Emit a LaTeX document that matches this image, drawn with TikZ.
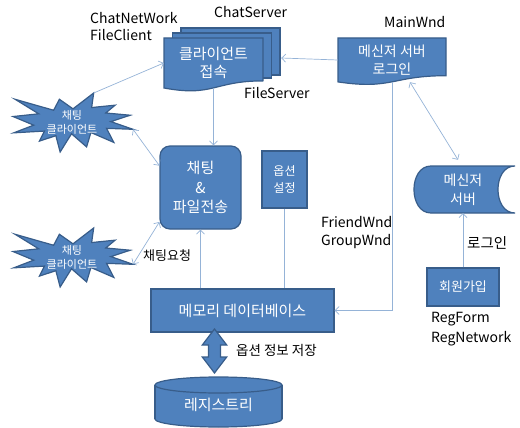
\documentclass[tikz,border=0pt]{standalone}
\usepackage{fontspec}
\setmainfont{Noto Sans CJK KR}
\usetikzlibrary{arrows.meta}
\definecolor{boxfill}{HTML}{4F81BD}
\definecolor{boxline}{HTML}{385D8A}
\definecolor{linkblue}{HTML}{95B3D7}
\tikzset{
    shapefill/.style={draw=boxline, fill=boxfill, line width=1.2pt},
    box/.style={shapefill, text=white, inner sep=0pt, align=center},
    words/.style={text=white, inner sep=0pt, align=center},
    tag/.style={inner sep=0pt, align=left, font=\fontsize{14}{17}\selectfont},
    link/.style={draw=linkblue, line width=0.7pt},
    onearrow/.style={-{Straight Barb[length=4pt,width=8pt]}},
    botharrow/.style={{Straight Barb[length=4pt,width=8pt]}-{Straight Barb[length=4pt,width=8pt]}},
    burst/.pic={
        \begin{scope}[xscale=0.5556, yscale=0.2731]
            \filldraw[shapefill] (108,58) -- (145.22,0) -- (141.55,53.25) -- (183.8,44.57) -- (167.02,73.15)
                -- (210.97,81.37) -- (176.07,104.75) -- (216,132.9) -- (168.37,129.42) -- (181.45,180.95)
                -- (140.2,144.57) -- (132.47,197.37) -- (105.32,149.35) -- (84.85,216) -- (77.15,156.27)
                -- (47.62,176.17) -- (56.67,139.37) -- (1.35,145.87) -- (37.22,117.75) -- (0,86.15)
                -- (46.27,76.17) -- (3.7,22.95) -- (73.12,63.2) -- (83.52,22.95) -- cycle;
        \end{scope}
        \coordinate (-top) at (80.7,0);
        \coordinate (-right) at (120,36.3);
        \node[words, font=\fontsize{11}{14.5}\selectfont] (-txt) at (59,29.5) {채팅\\클라이언트};
    }
}
\begin{document}
\begin{tikzpicture}[x=1pt, y=-1pt]
                \useasboundingbox (0,0) rectangle (520,428);

                \filldraw[shapefill] (181,28) rectangle (280,75);
                \filldraw[shapefill] (172.5,33) rectangle (271.5,78);
                \filldraw[shapefill] (164,38) -- (263,38) -- (263,80.9) .. controls (213.5,80.9) and (213.5,97.2) .. (164,88) -- cycle;
                \node[words, minimum width=99pt, minimum height=50pt, font=\fontsize{15}{18}\selectfont] (conn) at (213.5,63) {클라이언트\\접속};
                \node[inner sep=0pt, minimum width=117pt, minimum height=60pt] (stack) at (222.5,58) {};

                \filldraw[shapefill] (338,38) -- (446,38) -- (446,75.7) .. controls (392,75.7) and (392,90) .. (338,81.9) -- cycle;
                \node[words, minimum width=108pt, minimum height=44pt, font=\fontsize{14}{18}\selectfont] (login) at (392,60) {메신저 서버\\로그인};

                \node[box, rounded corners=10pt, minimum width=81pt, minimum height=83pt, font=\fontsize{15}{19.5}\selectfont] (chat) at (200.5,187.5) {채팅\\\&\\파일전송};
                \node[box, minimum width=45pt, minimum height=57pt, font=\fontsize{12}{17}\selectfont] (opt) at (284.5,179.5) {옵션\\설정};
                \node[box, minimum width=183pt, minimum height=43pt, font=\fontsize{15}{18}\selectfont] (db) at (242.5,310.5) {메모리 데이터베이스};
                \node[box, minimum width=72pt, minimum height=38pt, font=\fontsize{13}{16}\selectfont] (join) at (463,287) {회원가입};

                \filldraw[shapefill] (431,166) -- (515,166) .. controls (492.3,166) and (492.3,213) .. (515,213) -- (431,213) .. controls (408.3,213) and (408.3,166) .. (431,166) -- cycle;
                \node[words, minimum width=101pt, minimum height=47pt, font=\fontsize{14}{19}\selectfont] (server) at (463,189.5) {메신저\\서버};

                \filldraw[shapefill] (218.5,419) ellipse [x radius=63.5pt, y radius=8pt];
                \fill[boxfill] (155,385) rectangle (282,419);
                \draw[boxline, line width=1.2pt] (155,385) -- (155,419) (282,385) -- (282,419);
                \filldraw[shapefill] (218.5,385) ellipse [x radius=63.5pt, y radius=8pt];
                \node[words, minimum width=127pt, minimum height=30pt, font=\fontsize{15}{18}\selectfont] (registry) at (218.5,405) {레지스트리};

                \filldraw[shapefill] (214.5,329) -- (226.7,345) -- (220.5,345) -- (220.5,357) -- (226.7,357) -- (214.5,373)
                    -- (202.3,357) -- (208.5,357) -- (208.5,345) -- (202.3,345) -- cycle;

                \pic (c1) at (13,93) {burst};
                \pic (c2) at (13,228) {burst};

                \draw[link, onearrow] (login.west) -- (stack.east);
                \draw[link, onearrow] (c1-top) -- (conn.west);
                \draw[link, onearrow] (conn.south) -- (conn.south |- chat.north);
                \draw[link, botharrow] (c1-right) -- (chat.152);
                \draw[link, botharrow] (c2-right) -- (chat.220);
                \draw[link, onearrow] (chat.south |- db.north) -- (chat.south);
                \draw[link] (opt.south) -- (opt.south |- db.north);
                \draw[link, onearrow] (login.south) -- (login.south |- db.east) -- (db.east);
                \draw[link, botharrow] ([xshift=18pt]login.south) -- ([xshift=-5pt,yshift=6pt]server.north);
                \draw[link, onearrow] (join.north) -- (server.south);

                \node[tag, anchor=north west] (netlbl) at (90,12.4) {ChatNetWork\\FileClient};
                \node[tag, anchor=west] (srvlbl) at (214,12) {ChatServer};
                \node[tag, anchor=west] (filelbl) at (244,93) {FileServer};
                \node[tag, anchor=west] (mainlbl) at (384,22) {MainWnd};
                \node[tag, anchor=north west, font=\fontsize{14}{18}\selectfont] (wndlbl) at (321,216.4) {FriendWnd\\GroupWnd};
                \node[tag, anchor=west, font=\fontsize{13}{16}\selectfont] (reqlbl) at (143,256) {채팅요청};
                \node[tag, anchor=west, font=\fontsize{13.5}{16}\selectfont] (savelbl) at (236,350) {옵션 정보 저장};
                \node[tag, anchor=west, font=\fontsize{14.5}{17}\selectfont] (loginlbl) at (467,243) {로그인};
                \node[tag, anchor=north west, font=\fontsize{14}{20}\selectfont] (reglbl) at (431,312.4) {RegForm\\RegNetwork};
\end{tikzpicture}
\end{document}
